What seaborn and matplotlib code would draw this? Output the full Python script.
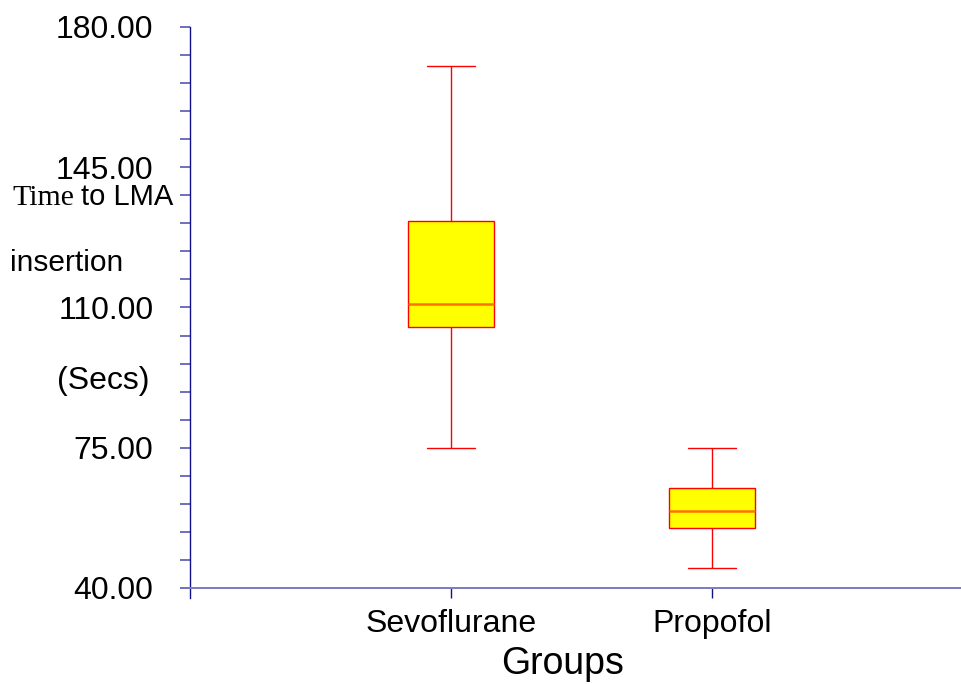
import matplotlib
matplotlib.use("Agg")
import matplotlib.pyplot as plt
import seaborn as sns
import pandas as pd
from matplotlib.ticker import FixedLocator, FormatStrFormatter

# Summary points per group (min, Q1, median, Q3, max) in seconds
groups = ["Sevoflurane", "Propofol"]
sevoflurane_times = [75.0, 105.1, 110.9, 131.6, 170.3]
propofol_times = [45.0, 55.0, 59.2, 65.0, 75.0]
major_ticks = [40, 75, 110, 145, 180]
minor_ticks = [47, 54, 61, 68, 82, 89, 96, 103, 117, 124, 131, 138, 152, 159, 166, 173]

df = pd.DataFrame({
    "Group": [groups[0]] * len(sevoflurane_times) + [groups[1]] * len(propofol_times),
    "Time": sevoflurane_times + propofol_times,
})

sns.set_style("white")
plt.rcParams["font.family"] = ["Liberation Sans", "DejaVu Sans"]
plt.rcParams["text.color"] = "black"

fig = plt.figure(figsize=(9.62, 6.84), dpi=100)
ax = fig.add_axes([190 / 962, 1 - 598 / 684, 1 - 190 / 962, (598 - 27) / 684])

sns.boxplot(
    data=df, x="Group", y="Time", order=groups, ax=ax,
    color="#ffff00", linecolor="#ff0000", linewidth=1.0, width=0.33,
    whis=1.5, showfliers=False, saturation=1,
    medianprops={"color": "#ff7000", "linewidth": 1.8},
    capwidths=0.184,
)

ax.set_xlim(-1.0, 1.958)
ax.set_ylim(37.5, 180)

# axes styling
for side in ["top", "right"]:
    ax.spines[side].set_visible(False)
ax.spines["left"].set_color("#10108a")
ax.spines["left"].set_linewidth(1.0)
ax.spines["bottom"].set_color("#7a7ac0")
ax.spines["bottom"].set_linewidth(1.4)
ax.spines["bottom"].set_position(("data", 40))

ax.yaxis.set_major_locator(FixedLocator(major_ticks))
ax.yaxis.set_minor_locator(FixedLocator(minor_ticks))
ax.yaxis.set_major_formatter(FormatStrFormatter("%.2f"))
ax.tick_params(axis="y", which="both", direction="out", length=7.2, width=1.2,
               color="#5858b0", left=True, pad=19, labelsize=23, labelcolor="black")
ax.tick_params(axis="x", direction="out", length=7.2, width=1.0, color="#10108a",
               bottom=True, pad=8, labelsize=23, labelcolor="black")

ax.set_xlabel("")
ax.set_ylabel("")

# axis titles
fig.text(563 / 962, 1 - 664 / 684, "Groups", fontsize=27, ha="center", va="center")
fig.text(12 / 962, 1 - 205 / 684, "Time", fontsize=21.5, family=["Liberation Serif", "DejaVu Serif"],
         ha="left", va="baseline")
fig.text(81 / 962, 1 - 205 / 684, "to LMA", fontsize=21, ha="left", va="baseline")
fig.text(10 / 962, 1 - 271 / 684, "insertion", fontsize=21.5, ha="left", va="baseline")
fig.text(57 / 962, 1 - 389 / 684, "(Secs)", fontsize=23, ha="left", va="baseline")

fig.savefig("out.png", dpi=100)
